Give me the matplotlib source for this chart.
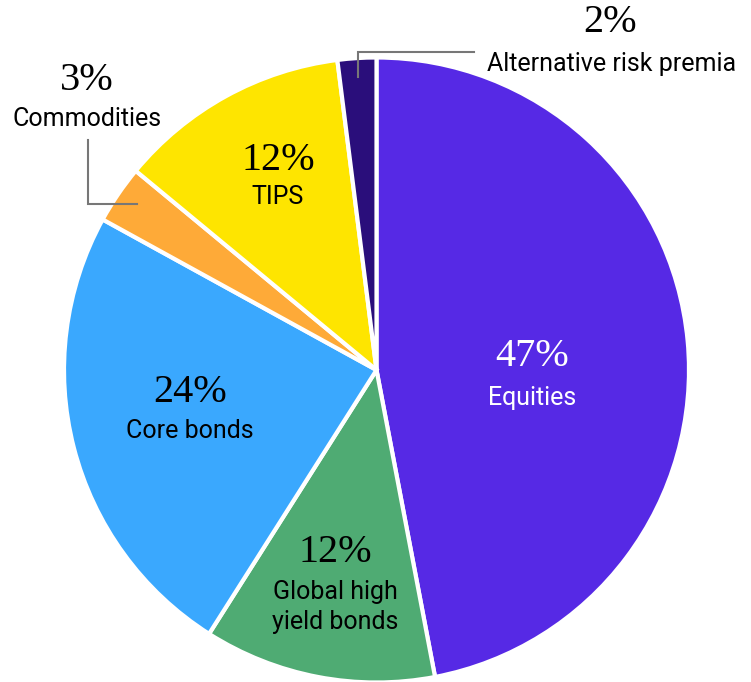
import matplotlib.pyplot as plt

labels = ["Equities", "Global high\nyield bonds", "Core bonds", "Commodities", "TIPS", "Alternative risk premia"]
values = [47, 12, 24, 3, 12, 2]
colors = ["#5629E5", "#4FAB73", "#3AA8FE", "#FEAA38", "#FEE500", "#2A0E7B"]

W, H = 751, 682
fig = plt.figure(figsize=(W / 100, H / 100), dpi=100)
ax = fig.add_axes([0, 0, 1, 1])

ax.pie(values, colors=colors, startangle=90, counterclock=False,
       center=(376.5, H - 370), radius=312.5,
       wedgeprops=dict(edgecolor="white", linewidth=3))

# pie resets the limits, so set them afterwards
ax.set_xlim(0, W)
ax.set_ylim(0, H)
ax.set_aspect("equal")
ax.axis("off")

pct_font = dict(family="Liberation Serif", fontsize=29)
lab_font = dict(family="Roboto", fontsize=18)


def put(x, y, pct, lab, color="black", dy=38):
    # x, y in image pixels (y down)
    ax.text(x, H - y, f"{pct}%", ha="center", va="center", color=color, **pct_font)
    ax.text(x, H - y - dy, lab, ha="center", va="center", color=color, **lab_font)


put(532, 357, values[0], labels[0], color="white", dy=41)
ax.text(335, H - 553, f"{values[1]}%", ha="center", va="center", **pct_font)
ax.text(335, H - 607, labels[1], ha="center", va="center", linespacing=1.3, **lab_font)
put(190, 392, values[2], labels[2], dy=39)
put(278, 160, values[4], labels[4], dy=37)
put(87, 80, values[3], labels[3], dy=39)
ax.text(610, H - 22, f"{values[5]}%", ha="center", va="center", **pct_font)
ax.text(612, H - 64, labels[5], ha="center", va="center", **lab_font)

# leader lines
ax.plot([358, 358, 474], [H - 77, H - 52, H - 52], color="#777777", lw=1.5,
        solid_joinstyle="miter")
ax.plot([88, 88, 137], [H - 140, H - 204, H - 204], color="#777777", lw=1.5,
        solid_joinstyle="miter")

fig.savefig("out.png", dpi=100)
